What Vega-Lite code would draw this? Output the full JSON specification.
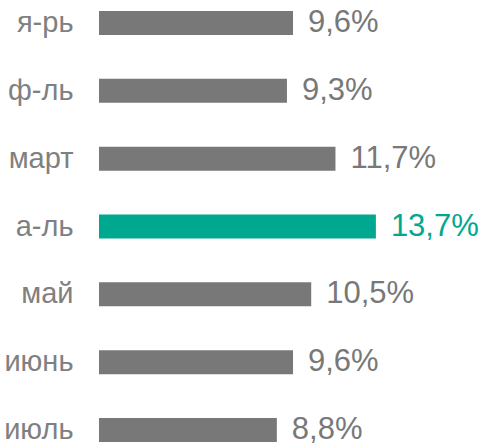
{
  "$schema": "https://vega.github.io/schema/vega-lite/v6.json",
  "autosize": "none",
  "width": 384,
  "height": 449,
  "padding": {"left": 99, "top": 2, "right": 2, "bottom": 0},
  "background": "white",
  "config": {"view": {"stroke": null}},
  "data": {
    "values": [
      {"month": "я-рь", "value": 9.6, "label": "9,6%", "highlight": "no"},
      {"month": "ф-ль", "value": 9.3, "label": "9,3%", "highlight": "no"},
      {"month": "март", "value": 11.7, "label": "11,7%", "highlight": "no"},
      {"month": "а-ль", "value": 13.7, "label": "13,7%", "highlight": "yes"},
      {"month": "май", "value": 10.5, "label": "10,5%", "highlight": "no"},
      {"month": "июнь", "value": 9.6, "label": "9,6%", "highlight": "no"},
      {"month": "июль", "value": 8.8, "label": "8,8%", "highlight": "no"}
    ]
  },
  "encoding": {
    "y": {
      "field": "month",
      "type": "nominal",
      "sort": null,
      "scale": {"paddingInner": 0.6462, "paddingOuter": 0.133},
      "axis": {
        "title": null,
        "domain": false,
        "ticks": false,
        "grid": false,
        "labelFont": "Liberation Sans",
        "labelFontSize": 29,
        "labelColor": "#808080",
        "labelPadding": 26
      }
    },
    "x": {
      "field": "value",
      "type": "quantitative",
      "scale": {"domain": [0, 19]},
      "axis": null
    },
    "color": {
      "field": "highlight",
      "type": "nominal",
      "scale": {"domain": ["no", "yes"], "range": ["#787878", "#00A88F"]},
      "legend": null
    }
  },
  "layer": [
    {"mark": {"type": "bar"}},
    {
      "mark": {"type": "text", "align": "left", "baseline": "middle", "dx": 15, "font": "Liberation Sans", "fontSize": 31},
      "encoding": {
        "text": {"field": "label"},
        "color": {
          "field": "highlight",
          "type": "nominal",
          "scale": {"domain": ["no", "yes"], "range": ["#787878", "#00A88F"]},
          "legend": null
        }
      }
    }
  ]
}
